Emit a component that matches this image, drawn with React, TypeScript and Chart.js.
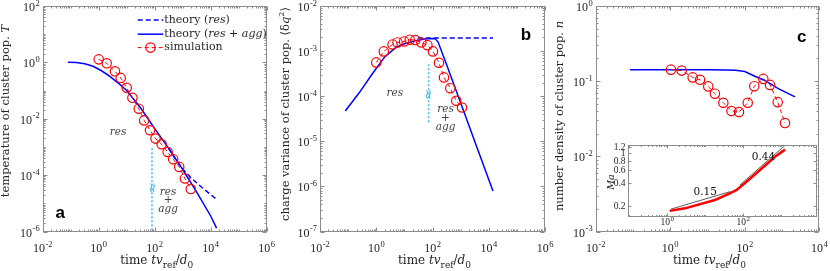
import React, { useEffect, useRef } from "react";
import { Chart, registerables } from "chart.js";
Chart.register(...registerables);

const W = 830;
const H = 271;

// ---------- Panel a: temperature ----------
const simTimeA = [1, 1.93, 3.8, 6.1, 10, 16, 27, 42, 68, 107, 177, 290, 458, 750, 1200, 1950];
const simTempA = [1.27, 0.92, 0.48, 0.28, 0.124, 0.055, 0.0226, 0.0087, 0.0039, 0.00197, 0.00124, 6.6e-4, 3.66e-4, 1.95e-4, 7.6e-5, 3.2e-5];
const aggTimeA = [0.079, 0.158, 0.316, 0.631, 1.26, 2.51, 5.01, 10, 31.6, 100, 316, 1000, 3162, 10000, 16200];
const aggTempA = [1.0, 0.977, 0.891, 0.724, 0.501, 0.316, 0.182, 0.1, 0.024, 0.00447, 8.9e-4, 1.58e-4, 2.5e-5, 3.55e-6, 1.32e-6];
const resTimeA = [316, 631, 1000, 2000, 5012, 16200];
const resTempA = [8.9e-4, 3.0e-4, 1.66e-4, 7.9e-5, 3.55e-5, 1.38e-5];
const crossTimeA = [80, 80];
const crossTempA = [8.9e-4, 1e-6];
const xExpA = [-2, 0, 2, 4, 6];
const yExpA = [-6, -4, -2, 0, 2];

// ---------- Panel b: charge variance ----------
const simTimeB = [1, 1.86, 3.8, 5.7, 9.8, 15.5, 24.5, 40, 66, 104, 170, 256, 430, 700, 1120];
const simVarB = [5.6e-4, 9.8e-4, 1.4e-3, 1.55e-3, 1.63e-3, 1.78e-3, 1.75e-3, 1.55e-3, 1.35e-3, 9.8e-4, 5.5e-4, 2.6e-4, 1.5e-4, 7.9e-5, 5.6e-5];
const aggTimeB = [0.0794, 0.251, 0.794, 2.0, 5.0, 10, 25.1, 63.1, 112, 126, 158, 316, 1000, 3162, 14125];
const aggVarB = [4.68e-5, 1.2e-4, 3.39e-4, 7.41e-4, 1.2e-3, 1.45e-3, 1.7e-3, 1.86e-3, 1.9e-3, 1.86e-3, 1.58e-3, 5.0e-4, 7.1e-5, 1.0e-5, 7.9e-7];
const resTimeB = [30, 14125];
const resVarB = [1.94e-3, 1.94e-3];
const crossTimeB = [73, 73];
const crossVarB = [5.1e-4, 2.45e-5];
const xExpB = [-2, 0, 2, 4, 6];
const yExpB = [-7, -6, -5, -4, -3, -2];

// ---------- Panel c: number density ----------
const simTimeC = [1.05, 2.03, 4, 6.3, 10.5, 15.8, 26.6, 44, 70, 120, 180, 315, 477, 766, 1200];
const simDensC = [0.142, 0.138, 0.112, 0.104, 0.085, 0.068, 0.0515, 0.04, 0.0387, 0.0515, 0.0855, 0.107, 0.089, 0.0525, 0.0277];
const theoryTimeC = [0.083, 1, 10, 31.6, 56, 100, 186, 347, 794, 2239];
const theoryDensC = [0.142, 0.142, 0.142, 0.141, 0.139, 0.134, 0.116, 0.102, 0.0794, 0.0617];
const xExpC = [-2, 0, 2, 4];
const yExpC = [-3, -2, -1, 0];

// ---------- Inset: Ma ----------
const insetTime = [1.15, 2.9, 18, 40, 67, 135, 305, 685, 1260];
const insetMa = [0.172, 0.186, 0.24, 0.288, 0.326, 0.44, 0.63, 0.9, 1.12];
const fitLowTime = [1.22, 45];
const fitLowMa = [0.181, 0.31];
const fitHighTime = [82, 1380];
const fitHighMa = [0.38, 1.33];
const insetXExp = [0, 2];
const insetYTicks = [0.2, 0.4, 0.6, 0.8, 1, 1.2];

const SERIF = '"DejaVu Serif", serif';
const TIMES = '"Liberation Serif", serif';
const SANS = '"Liberation Sans", Arial, sans-serif';
const BLUE = "#0000ff";
const RED = "#ff0000";
const CYAN = "#4DBEEE";
const BOX = "#8c8c8c";
const TXT = "#262626";
const NOTE = "#404040";

type Seg = { t: string; it?: boolean; sub?: boolean; sup?: boolean };

const pts = (xs: number[], ys: number[]) => xs.map((x, i) => ({ x, y: ys[i] }));

function lineDs(xs: number[], ys: number[], color: string, width: number, dash: number[] = []) {
  return {
    data: pts(xs, ys),
    showLine: true,
    borderColor: color,
    borderWidth: width,
    borderDash: dash,
    pointRadius: 0,
    fill: false,
    tension: 0,
  };
}
function simDs(xs: number[], ys: number[]) {
  return {
    data: pts(xs, ys),
    showLine: true,
    borderColor: RED,
    borderWidth: 1,
    borderDash: [4, 3],
    pointRadius: 4.7,
    pointBorderColor: RED,
    pointBackgroundColor: "rgba(0,0,0,0)",
    pointBorderWidth: 1.2,
    fill: false,
    tension: 0,
  };
}

function segFont(s: Seg, size: number, family: string) {
  const sz = s.sub || s.sup ? Math.round(size * 0.72) : size;
  return `${s.it ? "italic " : ""}${sz}px ${family}`;
}
function drawRich(ctx: CanvasRenderingContext2D, segs: Seg[], x: number, y: number, size: number, family: string, align: string, color: string) {
  let total = 0;
  const ws = segs.map((s) => {
    ctx.font = segFont(s, size, family);
    const w = ctx.measureText(s.t).width;
    total += w;
    return w;
  });
  let cx = align === "left" ? x : align === "center" ? x - total / 2 : x - total;
  ctx.fillStyle = color;
  ctx.textAlign = "left";
  segs.forEach((s, i) => {
    ctx.font = segFont(s, size, family);
    const dy = s.sub ? size * 0.3 : s.sup ? -size * 0.42 : 0;
    ctx.fillText(s.t, cx, y + dy);
    cx += ws[i];
  });
}
function drawPow(ctx: CanvasRenderingContext2D, exp: number, x: number, y: number, align: string, base: number, sup: number) {
  const e = String(exp);
  ctx.font = `${base}px ${TIMES}`;
  const w1 = ctx.measureText("10").width;
  ctx.font = `${sup}px ${TIMES}`;
  const w2 = ctx.measureText(e).width;
  const tot = w1 + w2 + 0.5;
  const sx = align === "center" ? x - tot / 2 : align === "right" ? x - tot : x;
  ctx.textAlign = "left";
  ctx.textBaseline = "alphabetic";
  ctx.fillStyle = TXT;
  ctx.font = `${base}px ${TIMES}`;
  ctx.fillText("10", sx, y);
  ctx.font = `${sup}px ${TIMES}`;
  ctx.fillText(e, sx + w1 + 0.5, y - base * 0.45);
}

type Note = { segs: Seg[]; x: number; y: number; color?: string; size?: number; rot?: boolean };
type Deco = {
  xExp: number[];
  yExp?: number[];
  yLin?: number[];
  tickBase: number;
  tickSup: number;
  majorLen: number;
  minorLen: number;
  xLabelDy: number;
  yLabelDx: number;
  yLabelDy: number;
  yTitle?: Seg[];
  yTitleX?: number;
  yTitleY?: number;
  yTitleSize?: number;
  xTitle?: Seg[];
  letter?: string;
  letterDx?: number;
  letterDy?: number;
  notes?: Note[];
  legend?: boolean;
  whiteBg?: number[];
};

function makeDeco(d: Deco) {
  return {
    id: "deco",
    beforeDraw(chart: any) {
      if (!d.whiteBg) return;
      const ctx = chart.ctx;
      ctx.save();
      ctx.fillStyle = "#ffffff";
      ctx.fillRect(d.whiteBg[0], d.whiteBg[1], d.whiteBg[2], d.whiteBg[3]);
      ctx.restore();
    },
    afterDraw(chart: any) {
      const ctx: CanvasRenderingContext2D = chart.ctx;
      const ca = chart.chartArea;
      const xs = chart.scales.x;
      const ys = chart.scales.y;
      ctx.save();
      // box
      ctx.strokeStyle = BOX;
      ctx.lineWidth = 1;
      const L = Math.round(ca.left) + 0.5;
      const R = Math.round(ca.right) - 0.5;
      const T = Math.round(ca.top) + 0.5;
      const B = Math.round(ca.bottom) - 0.5;
      ctx.strokeRect(L, T, R - L, B - T);
      // x ticks (log)
      const xmin = xs.min, xmax = xs.max;
      ctx.beginPath();
      for (let dd = Math.floor(Math.log10(xmin)); dd <= Math.ceil(Math.log10(xmax)); dd++) {
        for (let k = 1; k <= 9; k++) {
          const v = k * Math.pow(10, dd);
          if (v < xmin * 0.999 || v > xmax * 1.001) continue;
          const px = Math.round(xs.getPixelForValue(v)) + 0.5;
          const len = k === 1 && d.xExp.includes(dd) ? d.majorLen : d.minorLen;
          ctx.moveTo(px, B);
          ctx.lineTo(px, B - len);
          ctx.moveTo(px, T);
          ctx.lineTo(px, T + len);
        }
      }
      // y ticks
      const ymin = ys.min, ymax = ys.max;
      if (d.yExp) {
        for (let dd = Math.floor(Math.log10(ymin)); dd <= Math.ceil(Math.log10(ymax)); dd++) {
          for (let k = 1; k <= 9; k++) {
            const v = k * Math.pow(10, dd);
            if (v < ymin * 0.999 || v > ymax * 1.001) continue;
            const py = Math.round(ys.getPixelForValue(v)) + 0.5;
            const len = k === 1 && d.yExp.includes(dd) ? d.majorLen : d.minorLen;
            ctx.moveTo(L, py);
            ctx.lineTo(L + len, py);
            ctx.moveTo(R, py);
            ctx.lineTo(R - len, py);
          }
        }
      }
      if (d.yLin) {
        d.yLin.forEach((v) => {
          const py = Math.round(ys.getPixelForValue(v)) + 0.5;
          ctx.moveTo(L, py);
          ctx.lineTo(L + d.majorLen, py);
          ctx.moveTo(R, py);
          ctx.lineTo(R - d.majorLen, py);
        });
      }
      ctx.stroke();

      // tick labels
      d.xExp.forEach((e) => {
        const px = xs.getPixelForValue(Math.pow(10, e));
        drawPow(ctx, e, px, ca.bottom + d.xLabelDy, "center", d.tickBase, d.tickSup);
      });
      if (d.yExp) {
        d.yExp.forEach((e) => {
          const py = ys.getPixelForValue(Math.pow(10, e));
          drawPow(ctx, e, ca.left - d.yLabelDx, py + d.yLabelDy, "right", d.tickBase, d.tickSup);
        });
      }
      if (d.yLin) {
        ctx.font = `${d.tickBase}px ${TIMES}`;
        ctx.fillStyle = TXT;
        ctx.textAlign = "right";
        ctx.textBaseline = "alphabetic";
        d.yLin.forEach((v) => {
          const py = ys.getPixelForValue(v);
          ctx.fillText(String(v), ca.left - d.yLabelDx, py + d.yLabelDy);
        });
      }

      // titles
      ctx.textBaseline = "alphabetic";
      if (d.xTitle) {
        drawRich(ctx, d.xTitle, (ca.left + ca.right) / 2 + 2, 264, 12, SERIF, "center", TXT);
      }
      if (d.yTitle) {
        ctx.save();
        ctx.translate(d.yTitleX as number, d.yTitleY as number);
        ctx.rotate(-Math.PI / 2);
        drawRich(ctx, d.yTitle, 0, 0, d.yTitleSize || 11.5, SERIF, "center", TXT);
        ctx.restore();
      }

      // notes in data coordinates
      ctx.textBaseline = "middle";
      (d.notes || []).forEach((n) => {
        const px = xs.getPixelForValue(n.x);
        const py = ys.getPixelForValue(n.y);
        if (n.rot) {
          ctx.save();
          ctx.translate(px, py);
          ctx.rotate(Math.PI / 2);
          drawRich(ctx, n.segs, 0, 0, n.size || 10.5, SERIF, "center", n.color || NOTE);
          ctx.restore();
        } else {
          drawRich(ctx, n.segs, px, py, n.size || 10.5, SERIF, "center", n.color || NOTE);
        }
      });

      // panel letter
      if (d.letter) {
        ctx.font = `bold 17px ${SANS}`;
        ctx.fillStyle = "#000";
        ctx.textAlign = "center";
        ctx.textBaseline = "middle";
        ctx.fillText(d.letter, (d.letterDx as number) >= 0 ? ca.left + (d.letterDx as number) : ca.right + (d.letterDx as number), ca.top + (d.letterDy as number));
      }

      // legend
      if (d.legend) {
        const x0 = ca.left + 95;
        const x1 = x0 + 25.6;
        const rows = [ca.top + 14, ca.top + 28.3, ca.top + 41.7];
        ctx.lineWidth = 1.5;
        ctx.strokeStyle = BLUE;
        ctx.setLineDash([5, 3]);
        ctx.beginPath();
        ctx.moveTo(x0, rows[0]);
        ctx.lineTo(x1, rows[0]);
        ctx.stroke();
        ctx.setLineDash([]);
        ctx.beginPath();
        ctx.moveTo(x0, rows[1]);
        ctx.lineTo(x1, rows[1]);
        ctx.stroke();
        ctx.strokeStyle = RED;
        ctx.lineWidth = 1;
        ctx.setLineDash([4, 3]);
        ctx.beginPath();
        ctx.moveTo(x0, rows[2]);
        ctx.lineTo(x1, rows[2]);
        ctx.stroke();
        ctx.setLineDash([]);
        ctx.lineWidth = 1.2;
        ctx.beginPath();
        ctx.arc((x0 + x1) / 2, rows[2], 4.7, 0, Math.PI * 2);
        ctx.stroke();
        ctx.textBaseline = "middle";
        drawRich(ctx, [{ t: "theory (" }, { t: "res", it: true }, { t: ")" }], x1 + 1, rows[0], 11, SERIF, "left", TXT);
        drawRich(ctx, [{ t: "theory (" }, { t: "res", it: true }, { t: " + " }, { t: "agg", it: true }, { t: ")" }], x1 + 1, rows[1], 11, SERIF, "left", TXT);
        drawRich(ctx, [{ t: "simulation" }], x1 + 1, rows[2], 11, SERIF, "left", TXT);
      }
      ctx.restore();
    },
  };
}

function makeChart(canvas: HTMLCanvasElement, datasets: any[], area: number[], xr: number[], yr: number[], deco: Deco) {
  return new Chart(canvas, {
    type: "scatter",
    data: { datasets },
    options: {
      responsive: false,
      animation: false,
      devicePixelRatio: 1,
      events: [],
      layout: { padding: { left: area[0], right: W - area[1], top: area[2], bottom: H - area[3] } },
      plugins: { legend: { display: false }, tooltip: { enabled: false } },
      scales: {
        x: { type: "logarithmic", min: xr[0], max: xr[1], display: false },
        y: { type: "logarithmic", min: yr[0], max: yr[1], display: false },
      },
    } as any,
    plugins: [makeDeco(deco)],
  } as any);
}

const xTitle: Seg[] = [{ t: "time " }, { t: "tv", it: true }, { t: "ref", sub: true }, { t: "/" }, { t: "d", it: true }, { t: "0", sub: true }];
const squiggle = "\u2248";

export default function App() {
  const ra = useRef<HTMLCanvasElement>(null);
  const rb = useRef<HTMLCanvasElement>(null);
  const rc = useRef<HTMLCanvasElement>(null);
  const ri = useRef<HTMLCanvasElement>(null);

  useEffect(() => {
    const common = { tickBase: 12, tickSup: 8.5, majorLen: 4, minorLen: 2, xLabelDy: 20.5, yLabelDx: 3, yLabelDy: 5 };
    const ca = makeChart(
      ra.current as HTMLCanvasElement,
      [
        simDs(simTimeA, simTempA),
        lineDs(aggTimeA, aggTempA, BLUE, 1.5),
        lineDs(resTimeA, resTempA, BLUE, 1.5, [5, 3]),
        lineDs(crossTimeA, crossTempA, CYAN, 1.6, [2, 2]),
      ],
      [42.7, 266.7, 5, 231.5],
      [1e-2, 1e6],
      [1e-6, 1e2],
      {
        ...common,
        xExp: xExpA,
        yExp: yExpA,
        yTitle: [{ t: "temperature of cluster pop. " }, { t: "T", it: true }],
        yTitleX: 9,
        yTitleY: 111,
        xTitle,
        letter: "a",
        letterDx: 17.5,
        letterDy: 207,
        legend: true,
        notes: [
          { segs: [{ t: "res", it: true }], x: 4.9, y: 3.3e-3 },
          { segs: [{ t: "res", it: true }], x: 300, y: 2.37e-5 },
          { segs: [{ t: "+" }], x: 300, y: 1.3e-5 },
          { segs: [{ t: "agg", it: true }], x: 300, y: 6.3e-6 },
          { segs: [{ t: squiggle }], x: 76, y: 3.5e-5, color: CYAN, size: 14, rot: true },
        ],
      }
    );
    const cb = makeChart(
      rb.current as HTMLCanvasElement,
      [
        simDs(simTimeB, simVarB),
        lineDs(aggTimeB, aggVarB, BLUE, 1.5),
        lineDs(resTimeB, resVarB, BLUE, 1.5, [5, 3]),
        lineDs(crossTimeB, crossVarB, CYAN, 1.6, [2, 2]),
      ],
      [320, 545, 5, 231.5],
      [1e-2, 1e6],
      [1e-7, 1e-2],
      {
        ...common,
        xExp: xExpB,
        yExp: yExpB,
        yTitle: [{ t: "charge variance of cluster pop. \u27E8\u03B4" }, { t: "q", it: true }, { t: "2", sup: true }, { t: "\u27E9" }],
        yTitleX: 289,
        yTitleY: 114,
        xTitle,
        letter: "b",
        letterDx: -19,
        letterDy: 29,
        notes: [
          { segs: [{ t: "res", it: true }], x: 4.6, y: 1.15e-4 },
          { segs: [{ t: "res", it: true }], x: 290, y: 5.2e-5 },
          { segs: [{ t: "+" }], x: 290, y: 3.2e-5 },
          { segs: [{ t: "agg", it: true }], x: 290, y: 2e-5 },
          { segs: [{ t: squiggle }], x: 69, y: 1.1e-4, color: CYAN, size: 14, rot: true },
        ],
      }
    );
    const cc = makeChart(
      rc.current as HTMLCanvasElement,
      [simDs(simTimeC, simDensC), lineDs(theoryTimeC, theoryDensC, BLUE, 1.5)],
      [595.7, 819.3, 5, 231.5],
      [1e-2, 1e4],
      [1e-3, 1],
      {
        ...common,
        xExp: xExpC,
        yExp: yExpC,
        yTitle: [{ t: "number density of cluster pop. " }, { t: "n", it: true }],
        yTitleX: 563,
        yTitleY: 116,
        xTitle,
        letter: "c",
        letterDx: -17.5,
        letterDy: 31,
      }
    );
    const ci = makeChart(
      ri.current as HTMLCanvasElement,
      [
        lineDs(insetTime, insetMa, RED, 2.5),
        lineDs(fitLowTime, fitLowMa, "#333333", 0.8),
        lineDs(fitHighTime, fitHighMa, "#333333", 0.8),
      ],
      [627.5, 817.3, 145, 216.7],
      [Math.pow(10, -1.05), Math.pow(10, 3.95)],
      [0.144, 1.29],
      {
        tickBase: 9.5,
        tickSup: 7,
        majorLen: 3,
        minorLen: 1.5,
        xLabelDy: 8.5,
        yLabelDx: 2,
        yLabelDy: 3,
        xExp: insetXExp,
        yLin: insetYTicks,
        yTitle: [{ t: "Ma", it: true }],
        yTitleX: 614,
        yTitleY: 182,
        yTitleSize: 9.5,
        whiteBg: [605, 141, 212.3, 86],
        notes: [
          { segs: [{ t: "0.15" }], x: 9.9, y: 0.3, color: "#111", size: 10.5 },
          { segs: [{ t: "0.44" }], x: 340, y: 0.9, color: "#111", size: 10.5 },
        ],
      }
    );
    return () => {
      ca.destroy();
      cb.destroy();
      cc.destroy();
      ci.destroy();
    };
  }, []);

  const cs: React.CSSProperties = { position: "absolute", left: 0, top: 0, width: W, height: H };
  return (
    <div style={{ position: "fixed", left: 0, top: 0, width: W, height: H, background: "#ffffff" }}>
      <canvas ref={ra} width={W} height={H} style={cs} />
      <canvas ref={rb} width={W} height={H} style={cs} />
      <canvas ref={rc} width={W} height={H} style={cs} />
      <canvas ref={ri} width={W} height={H} style={cs} />
    </div>
  );
}
